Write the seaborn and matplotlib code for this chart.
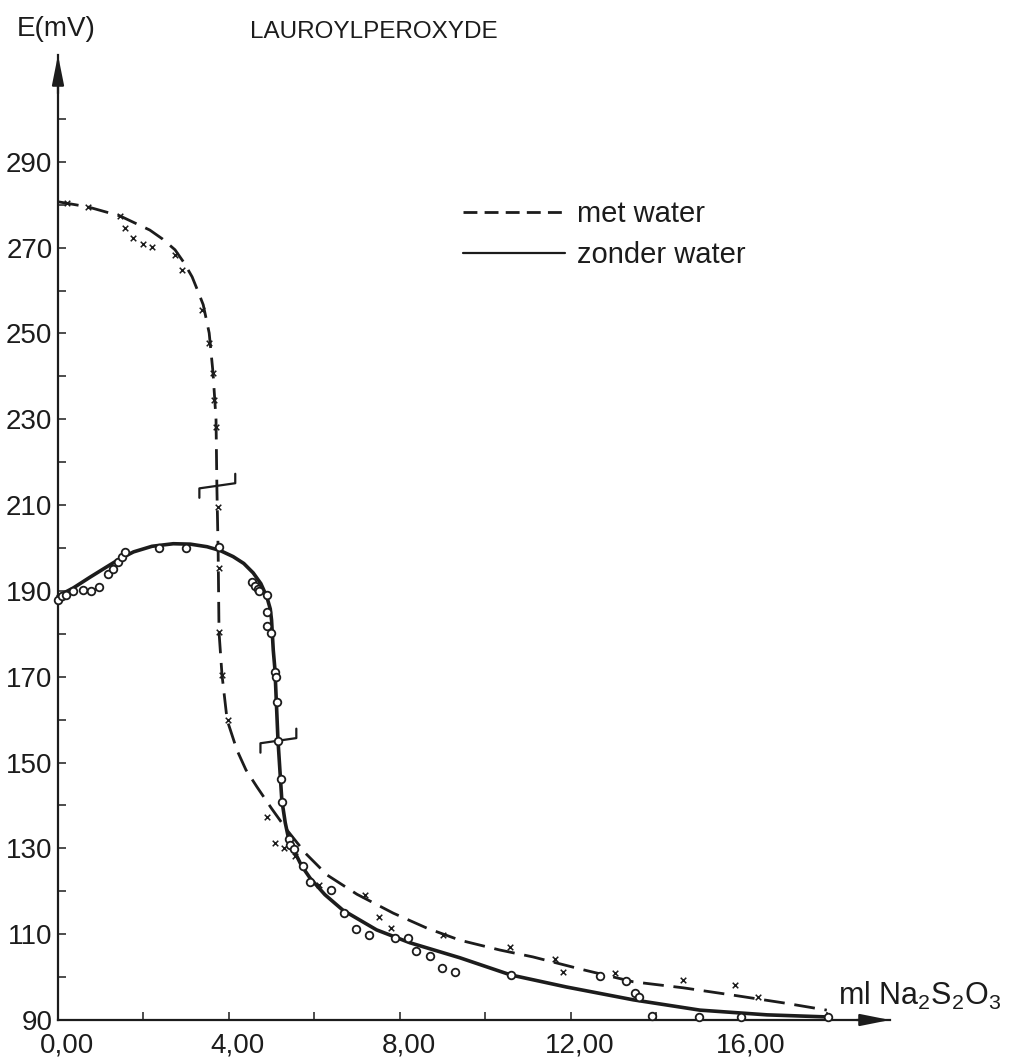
import numpy as np
import pandas as pd
import matplotlib
matplotlib.use("Agg")
import matplotlib.pyplot as plt
import matplotlib.transforms as mtransforms
from matplotlib.lines import Line2D
import seaborn as sns

# ---------------- data ----------------
# hand-drawn curve "met water" (dashed)
met_curve_x = [0.00, 0.70, 1.45, 2.15, 2.45, 2.74, 2.95, 3.14, 3.27, 3.40, 3.54, 3.63, 3.70,
               3.72, 3.75, 3.77, 3.84, 3.96, 4.19, 4.40, 4.66, 5.00, 5.36, 5.80, 6.30, 7.00, 7.85,
               8.64, 9.41, 10.35, 11.12, 12.30, 13.47, 14.64, 15.80, 16.98, 18.00]
met_curve_y = [280.7, 279.5, 277.4, 274.1, 272.0, 269.5, 266.5, 263.2, 260.0, 256.7, 250.1, 240.8, 229.9,
               214.2, 198.9, 180.4, 170.4, 159.9, 152.9, 148.3, 144.3, 139.3, 134.3, 128.8, 123.8, 119.3, 114.9,
               111.4, 108.6, 106.3, 104.7, 101.7, 98.9, 97.5, 95.8, 94.0, 92.3]

# hand-drawn curve "zonder water" (solid)
zonder_curve_x = [0.00, 0.36, 0.75, 1.14, 1.45, 1.77, 2.20, 2.70, 3.10, 3.49, 3.80, 4.10, 4.35,
                  4.57, 4.75, 4.89, 4.97, 5.00, 5.04, 5.08, 5.15, 5.24, 5.32, 5.39, 5.50,
                  5.70, 5.90, 6.25, 6.67, 7.46, 8.24, 9.41, 10.60, 11.90, 13.47, 15.03, 16.60, 18.04]
zonder_curve_y = [188.8, 190.7, 193.2, 195.6, 197.5, 199.1, 200.4, 201.0, 200.9, 200.3, 199.4, 198.0, 196.4,
                  194.2, 191.7, 188.6, 185.8, 183.2, 176.2, 171.6, 155.3, 141.3, 136.0, 132.7, 130.0,
                  126.0, 123.1, 119.2, 115.6, 111.0, 108.0, 104.5, 100.5, 97.7, 94.7, 92.3, 91.2, 90.7]

# measured points, "met water" (x marks)
met_pts_x = [0.20, 0.71, 1.45, 1.57, 1.76, 1.98, 2.19, 2.74, 2.90, 3.37, 3.54, 3.64, 3.65, 3.70,
             3.75, 3.78, 3.78, 3.83, 3.97, 4.90, 5.08, 5.28, 5.54, 6.10, 7.19, 7.52, 7.80, 9.02,
             10.59, 11.64, 11.83, 13.04, 14.64, 15.85, 16.40]
met_pts_y = [280.4, 279.4, 277.3, 274.5, 272.2, 270.9, 270.1, 268.3, 264.8, 255.5, 247.7, 240.7, 234.5, 228.3,
             209.6, 195.3, 180.5, 170.4, 159.9, 137.2, 131.2, 130.0, 128.2, 121.5, 119.1, 114.1, 111.4, 109.8,
             106.9, 104.1, 101.3, 101.0, 99.3, 98.2, 95.4]

# measured points, "zonder water" (open circles)
zonder_pts_x = [0.00, 0.09, 0.19, 0.36, 0.58, 0.77, 0.96, 1.16, 1.28, 1.41, 1.49, 1.58, 2.37, 2.99,
                3.78, 4.54, 4.61, 4.68, 4.71, 4.89, 4.89, 4.90, 4.98, 5.07, 5.10, 5.12, 5.16, 5.21,
                5.25, 5.42, 5.43, 5.53, 5.73, 5.90, 6.39, 6.70, 6.98, 7.29, 7.89, 8.20, 8.38, 8.70,
                9.00, 9.30, 10.60, 12.70, 13.30, 13.50, 13.60, 13.90, 15.00, 16.00, 18.04]
zonder_pts_y = [187.9, 188.8, 189.0, 189.9, 190.2, 190.0, 191.0, 194.0, 195.0, 196.8, 197.9, 199.0, 200.0, 200.1,
                200.2, 192.0, 191.2, 190.4, 189.9, 189.0, 185.0, 181.9, 180.1, 171.2, 170.0, 164.0, 155.1, 146.2,
                140.9, 132.1, 130.8, 129.8, 125.9, 122.2, 120.2, 115.0, 111.1, 109.8, 109.0, 109.2, 106.0, 105.0,
                102.2, 101.3, 100.5, 100.3, 99.2, 96.4, 95.3, 90.9, 90.6, 90.6, 90.6]

# equivalence points (bracket marks)
eq_x = [3.73, 5.16]
eq_y = [214.5, 155.1]

x_ticks = [0, 4, 8, 12, 16]
x_tick_labels = ["0,00", "4,00", "8,00", "12,00", "16,00"]
y_ticks = [90, 110, 130, 150, 170, 190, 210, 230, 250, 270, 290]
series_labels = ["met water", "zonder water"]

# ---------------- styling ----------------
INK = "#1c1c1c"
sns.set_style("ticks")
plt.rcParams["font.family"] = ["Liberation Sans", "DejaVu Sans"]
plt.rcParams["mathtext.fontset"] = "custom"
plt.rcParams["mathtext.rm"] = "Liberation Sans"
plt.rcParams["mathtext.it"] = "Liberation Sans"
plt.rcParams["mathtext.default"] = "regular"

fig = plt.figure(figsize=(10.11, 10.62), dpi=100)
fig.patch.set_facecolor("white")
ax = fig.add_axes([58 / 1011, 42 / 1062, 832 / 1011, 965 / 1062])
ax.set_facecolor("white")

DASH = (0, (7.5, 3.5))

met_df = pd.DataFrame({"x": met_curve_x, "y": met_curve_y})
zon_df = pd.DataFrame({"x": zonder_curve_x, "y": zonder_curve_y})
sns.lineplot(data=met_df, x="x", y="y", ax=ax, sort=False, estimator=None,
             color=INK, lw=2.0, linestyle=DASH, clip_on=False, zorder=2)
sns.lineplot(data=zon_df, x="x", y="y", ax=ax, sort=False, estimator=None,
             color=INK, lw=2.6, clip_on=False, zorder=3)

sns.scatterplot(x=met_pts_x, y=met_pts_y, ax=ax, marker="x", s=16, color=INK,
                linewidth=1.1, zorder=4, clip_on=False)
sns.scatterplot(x=zonder_pts_x, y=zonder_pts_y, ax=ax, marker="o", s=30,
                facecolor="white", edgecolor=INK, linewidth=1.3, zorder=5, clip_on=False)

# bracket marks at the equivalence points
half_w, hook, tilt = 0.42, 2.2, 0.6
for ex, ey in zip(eq_x, eq_y):
    ax.plot([ex - half_w, ex - half_w, ex + half_w, ex + half_w],
            [ey - tilt - hook, ey - tilt, ey + tilt, ey + tilt + hook],
            color=INK, lw=1.6, zorder=4)

ax.set_xlim(0, 19.48)
ax.set_ylim(90, 314.9)
ax.set_xticks(x_ticks)
ax.set_xticklabels(x_tick_labels)
ax.set_xticks([2, 6, 10, 14, 18], minor=True)
ax.set_yticks(y_ticks)
ax.set_yticks([v + 10 for v in y_ticks], minor=True)
ax.tick_params(which="both", direction="in", length=6, width=1.1, color=INK)
ax.tick_params(axis="both", labelsize=20, labelcolor=INK)
ax.tick_params(axis="x", pad=9)
ax.tick_params(axis="y", pad=4)
ax.set_xlabel("")
ax.set_ylabel("")
shift = mtransforms.ScaledTranslation(9 / 100, 0, fig.dpi_scale_trans)
for lab in ax.get_xticklabels():
    lab.set_transform(lab.get_transform() + shift)

for side in ["top", "right"]:
    ax.spines[side].set_visible(False)
for side in ["left", "bottom"]:
    ax.spines[side].set_linewidth(1.6)
    ax.spines[side].set_color(INK)

arrow = dict(arrowstyle="-|>,head_length=1.5,head_width=0.3", color=INK, lw=1.6,
             mutation_scale=12, shrinkA=0, shrinkB=0)
ax.annotate("", xy=(1, 0), xycoords="axes fraction", xytext=(0.96, 0), arrowprops=arrow,
            annotation_clip=False)
ax.annotate("", xy=(0, 1), xycoords="axes fraction", xytext=(0, 0.96), arrowprops=arrow,
            annotation_clip=False)

# legend
handles = [Line2D([], [], color=INK, lw=2.0, linestyle=(0, (5, 2.6))),
           Line2D([], [], color=INK, lw=1.6)]
leg = ax.legend(handles, series_labels, loc="upper left",
                bbox_to_anchor=(463 / 1011, 1 - 200 / 1062), bbox_transform=fig.transFigure,
                frameon=False, fontsize=21, handlelength=3.5, handletextpad=0.4,
                labelspacing=0.45, borderpad=0, borderaxespad=0)
for t in leg.get_texts():
    t.set_color(INK)

# texts
fig.text(17 / 1011, 1 - 36 / 1062, "E(mV)", fontsize=20, color=INK, va="baseline", ha="left")
fig.text(250 / 1011, 1 - 38 / 1062, "LAUROYLPEROXYDE", fontsize=17.5, color=INK,
         va="baseline", ha="left")
fig.text(838 / 1011, 1 - 1005 / 1062, r"ml Na$_2$S$_2$O$_3$", fontsize=22, color=INK,
         va="baseline", ha="left")

fig.savefig("out.png", dpi=100, facecolor="white")
